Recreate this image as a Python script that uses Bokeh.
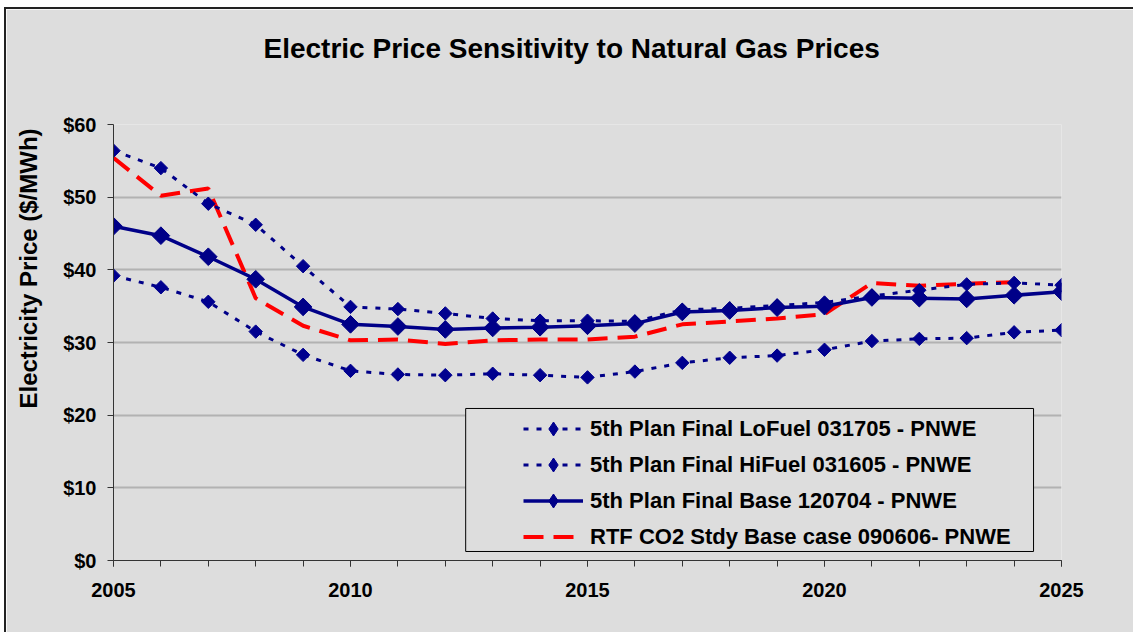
import numpy as np
from bokeh.plotting import figure
from bokeh.models import (FixedTicker, NumeralTickFormatter, Title, Legend,
                          LegendItem, BoxAnnotation, Range1d)
from bokeh.embed import file_html
from bokeh.resources import INLINE

# ---------------- data ----------------
years = list(range(2005, 2026))
lofuel = [39.2, 37.6, 35.6, 31.5, 28.3, 26.1, 25.6, 25.5, 25.7, 25.5, 25.2,
          26.0, 27.2, 27.9, 28.2, 29.0, 30.2, 30.5, 30.6, 31.4, 31.7]
hifuel = [56.4, 54.0, 49.1, 46.2, 40.5, 34.9, 34.6, 34.0, 33.3, 33.0, 33.0,
          32.9, 34.5, 34.7, 35.1, 35.5, 36.4, 37.2, 38.0, 38.2, 37.9]
base = [46.0, 44.7, 41.8, 38.7, 34.9, 32.5, 32.2, 31.8, 32.0, 32.1, 32.3,
        32.6, 34.2, 34.4, 34.8, 35.0, 36.2, 36.1, 36.0, 36.5, 37.0]
rtf_years = list(range(2005, 2025))
rtf = [55.4, 50.2, 51.2, 36.1, 32.3, 30.3, 30.4, 29.8, 30.3, 30.4, 30.4,
       30.8, 32.5, 32.9, 33.3, 33.9, 38.2, 37.8, 38.1, 38.3]

series_names = ["5th Plan Final LoFuel 031705 - PNWE",
                "5th Plan Final HiFuel 031605 - PNWE",
                "5th Plan Final Base 120704 - PNWE",
                "RTF CO2 Stdy Base case 090606- PNWE"]
x_major_ticks = [2005, 2010, 2015, 2020, 2025]
y_ticks = [0, 10, 20, 30, 40, 50, 60]
title_text = "Electric Price Sensitivity to Natural Gas Prices"
y_title = "Electricity Price ($/MWh)"

# ---------------- style ----------------
BG = "#DDDDDD"
NAVY = "#000088"
MARK = "#00008F"
FONT = "Liberation Sans"

p = figure(width=1129, height=625, output_backend="svg", toolbar_location=None,
           x_range=Range1d(2005, 2025), y_range=Range1d(0, 60),
           background_fill_color=BG, border_fill_color=BG,
           outline_line_color=None, title_location=None,
           min_border_left=107, min_border_right=74,
           min_border_top=115, min_border_bottom=74)
p.styles = {"border-left": "2px solid #222222", "border-top": "2px solid #222222",
            "margin-left": "4px", "margin-top": "7px"}

# title (spacer below it pushes it up, away from the plot area)
spacer = Title(text=" ", text_font_size="40px", text_font=FONT)
p.add_layout(spacer, "above")
main_title = Title(text=title_text, align="left", offset=150, text_font=FONT,
                   text_font_style="bold", text_font_size="28px", text_color="black")
p.add_layout(main_title, "above")

# grid
p.xgrid.grid_line_color = None
p.ygrid.grid_line_color = "#B2B2B2"
p.ygrid.grid_line_width = 2

# axes
for ax in (p.xaxis[0], p.yaxis[0]):
    ax.axis_line_color = "#333333"
    ax.axis_line_width = 1
    ax.major_tick_line_color = "#333333"
    ax.minor_tick_line_color = "#333333"
    ax.major_tick_in = 0
    ax.major_tick_out = 6
    ax.minor_tick_in = 0
    ax.minor_tick_out = 6
    ax.major_label_text_font = FONT
    ax.major_label_text_font_style = "bold"
    ax.major_label_text_font_size = "20px"
    ax.major_label_text_color = "black"

p.xaxis.ticker = FixedTicker(ticks=x_major_ticks, minor_ticks=years)
p.xaxis.major_label_standoff = 16
p.yaxis.ticker = FixedTicker(ticks=y_ticks, minor_ticks=[])
p.yaxis.formatter = NumeralTickFormatter(format="$0")
p.yaxis.major_label_standoff = 11

# y-axis title, shifted up and left like the original
yspacer = Title(text=" ", text_font_size="2px", text_font=FONT)
p.add_layout(yspacer, "left")
ytitle = Title(text=y_title, align="left", offset=152, text_font=FONT,
               text_font_style="bold", text_font_size="24px", text_color="black")
p.add_layout(ytitle, "left")

# lines
r_rtf = p.line(rtf_years, rtf, line_color="#FF0000", line_width=4, line_dash="20 10")
r_lo = p.line(years, lofuel, line_color=NAVY, line_width=3, line_dash="5 8")
r_hi = p.line(years, hifuel, line_color=NAVY, line_width=3, line_dash="5 8")
r_base = p.line(years, base, line_color=NAVY, line_width=3.5)

p.scatter(years, lofuel, marker="square", angle=np.pi / 4, size=9.5,
          fill_color=MARK, line_color=MARK)
p.scatter(years, hifuel, marker="square", angle=np.pi / 4, size=9.5,
          fill_color=MARK, line_color=MARK)
p.scatter(years, base, marker="square", angle=np.pi / 4, size=12.5,
          fill_color=NAVY, line_color=NAVY)

# legend-only marker glyphs (a single undrawn point each)
lg_small = p.scatter([np.nan], [np.nan], marker="diamond", size=15,
                     fill_color=MARK, line_color=MARK)
lg_big = p.scatter([np.nan], [np.nan], marker="diamond", size=19,
                   fill_color=NAVY, line_color=NAVY)

# legend frame
box = BoxAnnotation(left=2012.43, right=2024.41, top=20.92, bottom=1.24,
                    fill_color=BG, fill_alpha=1, line_color="black",
                    line_width=1, line_alpha=1)
p.add_layout(box)

legend = Legend(items=[LegendItem(label=series_names[0], renderers=[r_lo, lg_small]),
                       LegendItem(label=series_names[1], renderers=[r_hi, lg_small]),
                       LegendItem(label=series_names[2], renderers=[r_base, lg_big]),
                       LegendItem(label=series_names[3], renderers=[r_rtf])],
                location=(410, 6), border_line_color=None,
                background_fill_alpha=0, glyph_width=60, glyph_height=35,
                label_height=24, label_standoff=7, spacing=1, padding=5,
                margin=0, label_text_font=FONT, label_text_font_style="bold",
                label_text_font_size="22px", label_text_color="black")
p.add_layout(legend)

open("out.html", "w").write(file_html(p, INLINE))
